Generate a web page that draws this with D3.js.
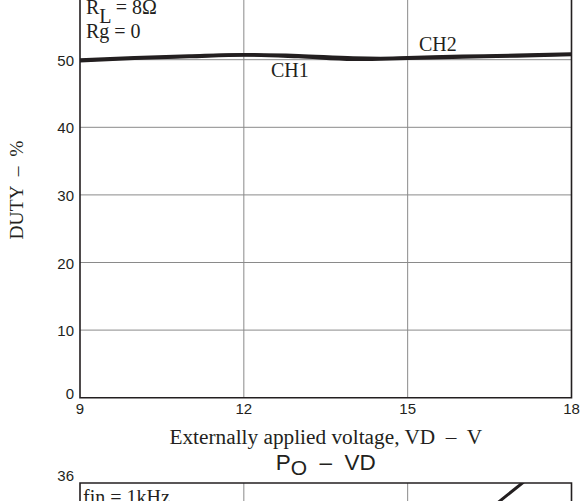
<!DOCTYPE html>
<html lang="en">
<head>
  <meta charset="UTF-8">
  <title>DUTY - VD</title>
  <script src="https://d3js.org/d3.v7.min.js"></script>
  <style>
    body { margin: 0; background: #fff; }
    .serif { font-family: "Liberation Serif", "Times New Roman", serif; fill: #231f20; }
    .sans { font-family: "Liberation Sans", Arial, sans-serif; fill: #231f20; }
    .grid line { stroke: #8a8a8a; stroke-width: 1; }
    .frame { stroke: #231f20; stroke-width: 1.6; fill: none; }
  </style>
</head>
<body>
<svg id="chart" width="583" height="501"></svg>
<script>
  // data
  const voltage = [9, 10, 11, 12, 13, 14, 14.5, 15, 16, 17, 18];
  const dutyCH1 = [49.85, 50.2, 50.45, 50.7, 50.45, 50.05, 50.1, 50.2, 50.4, 50.55, 50.75];
  const dutyCH2 = [49.95, 50.3, 50.55, 50.75, 50.6, 50.25, 50.2, 50.3, 50.5, 50.65, 50.85];
  const xTicks = [9, 12, 15, 18];
  const yTicks = [0, 10, 20, 30, 40, 50];

  // lower chart (Po - VD), only its top strip is inside the picture
  const poVoltage = [15.5, 16, 16.5, 17.1, 17.6];
  const poValues = [28.6, 30.9, 33.2, 36, 38.3];
  const poTicks = [36];

  const svg = d3.select("svg#chart");
  const left = 80, right = 571.5;
  const y0 = 397.7, unit = 6.76;

  const x = d3.scaleLinear().domain([9, 18]).range([left, right]);
  const y = d3.scaleLinear().domain([0, 60]).range([y0, y0 - 60 * unit]);

  const plotTop = y(60);
  const top2 = 483;
  const y2 = d3.scaleLinear().domain([0, 36]).range([top2 + 338, top2]);

  // gridlines
  const grid = svg.append("g").attr("class", "grid");
  yTicks.filter(d => d > 0).forEach(d => {
    grid.append("line")
        .attr("x1", left).attr("x2", right)
        .attr("y1", y(d)).attr("y2", y(d));
  });
  xTicks.slice(1, -1).forEach(d => {
    grid.append("line")
        .attr("x1", x(d)).attr("x2", x(d))
        .attr("y1", plotTop).attr("y2", y0);
    grid.append("line")
        .attr("x1", x(d)).attr("x2", x(d))
        .attr("y1", top2).attr("y2", 510);
  });

  // frame: left, bottom, right
  svg.append("path")
     .attr("class", "frame")
     .attr("d", `M${left},${plotTop}V${y0}H${right}V${plotTop}`);

  // tick labels
  yTicks.forEach(d => {
    svg.append("text")
       .attr("class", "sans")
       .attr("x", left - 6)
       .attr("y", y(d) + (d === 0 ? -4 : 0.5))
       .attr("text-anchor", "end")
       .attr("dominant-baseline", "central")
       .style("font-size", "15px")
       .text(d);
  });
  xTicks.forEach(d => {
    svg.append("text")
       .attr("class", "sans")
       .attr("x", x(d))
       .attr("y", y0 + 16.5)
       .attr("text-anchor", "middle")
       .style("font-size", "15px")
       .text(d);
  });

  // curves
  const line = (vals) => d3.line()
      .x((d, i) => x(voltage[i]))
      .y(d => y(d))
      .curve(d3.curveMonotoneX)(vals);

  svg.append("path")
     .attr("d", line(dutyCH1))
     .attr("fill", "none")
     .attr("stroke", "#231f20")
     .attr("stroke-width", 3.4);
  svg.append("path")
     .attr("d", line(dutyCH2))
     .attr("fill", "none")
     .attr("stroke", "#231f20")
     .attr("stroke-width", 3.4);

  // annotations
  const serif = (tx, ty, txt, size) => svg.append("text")
      .attr("class", "serif")
      .attr("x", tx).attr("y", ty)
      .style("font-size", (size || 20) + "px")
      .text(txt);

  const rl = serif(86, 14, "R");
  rl.append("tspan").attr("dy", 8.5).text("L");
  rl.append("tspan").attr("dy", -8.5).text(" = 8Ω");
  serif(86, 38, "Rg = 0");
  serif(271, 77, "CH1");
  serif(419, 51, "CH2");

  svg.append("text")
     .attr("class", "serif")
     .attr("x", (left + right) / 2)
     .attr("y", 444)
     .attr("text-anchor", "middle")
     .style("font-size", "21.3px")
     .style("white-space", "pre")
     .text("Externally applied voltage, VD  –  V");

  svg.append("text")
     .attr("class", "serif")
     .attr("transform", `translate(23, 190) rotate(-90)`)
     .attr("text-anchor", "middle")
     .style("font-size", "19.5px")
     .style("white-space", "pre")
     .text("DUTY  –  %");

  // second chart title
  const t2 = svg.append("text")
     .attr("class", "sans")
     .attr("x", (left + right) / 2)
     .attr("y", 470)
     .attr("text-anchor", "middle")
     .style("font-size", "22.5px")
     .style("white-space", "pre");
  t2.append("tspan").text("P");
  t2.append("tspan").attr("dy", 4.5).style("font-size", "21px").text("O");
  t2.append("tspan").attr("dy", -4.5).text("  –  VD");

  // second chart top strip
  svg.append("path")
     .attr("class", "frame")
     .attr("d", `M${left},510V${top2}H${right}V510`);

  poTicks.forEach(d => {
    svg.append("text")
       .attr("class", "sans")
       .attr("x", left - 6)
       .attr("y", y2(d) - 7.5)
       .attr("text-anchor", "end")
       .attr("dominant-baseline", "central")
       .style("font-size", "15px")
       .text(d);
  });

  svg.append("clipPath").attr("id", "clip2")
     .append("rect").attr("x", left).attr("y", top2)
     .attr("width", right - left).attr("height", 100);

  svg.append("path")
     .attr("clip-path", "url(#clip2)")
     .attr("d", d3.line().x((d, i) => x(poVoltage[i])).y(d => y2(d))(poValues))
     .attr("fill", "none")
     .attr("stroke", "#231f20")
     .attr("stroke-width", 3);

  serif(83, 504, "fin = 1kHz");
</script>
</body>
</html>
